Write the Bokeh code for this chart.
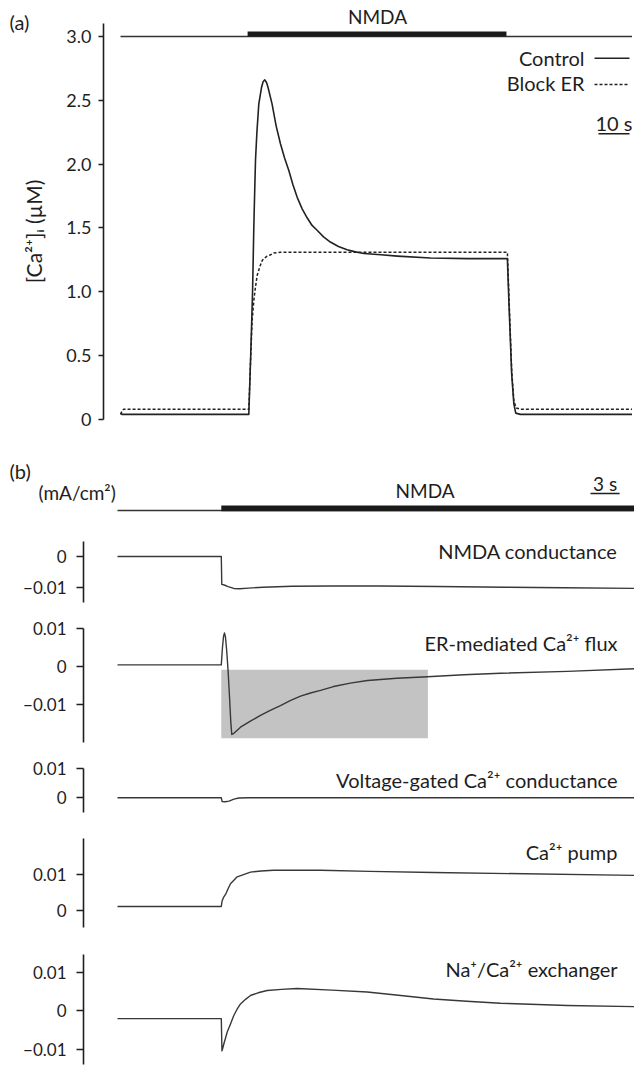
import math
from bokeh.plotting import figure
from bokeh.layouts import row
from bokeh.models import Range1d, FixedTicker, Label, CustomJSTickFormatter
from bokeh.embed import file_html
from bokeh.resources import INLINE

# ---------------- data ----------------
# (a) intracellular Ca2+ (uM) against time (s)
ctrl_t = [0, 0.5, 41.39, 42.0, 42.6, 43.0, 43.3, 43.55, 44.0, 44.61, 45.48, 46.0, 46.55, 47.1,
          47.6, 48.9, 50.2, 51.6, 52.9, 54.3, 55.6, 57.0, 58.6, 60.2, 61.8, 63.5, 65.5, 67.7,
          70.3, 73.1, 75.8, 78.5, 84.0, 89.3, 100.0, 112.0, 124.8, 125.4, 126.2, 126.9,
          127.5, 129.0, 165.0]
ctrl_v = [0.05, 0.04, 0.04, 0.50, 1.00, 1.50, 1.80, 2.03, 2.25, 2.47, 2.60, 2.645, 2.66, 2.64,
          2.60, 2.47, 2.30, 2.16, 2.05, 1.95, 1.84, 1.74, 1.65, 1.58, 1.52, 1.48, 1.43, 1.39,
          1.355, 1.33, 1.313, 1.30, 1.29, 1.28, 1.265, 1.26, 1.26, 0.85, 0.35, 0.12,
          0.05, 0.04, 0.04]
block_t = [0, 0.6, 1.0, 41.39, 41.94, 42.48, 43.0, 43.55, 44.1, 45.0, 45.7, 46.2, 47.3,
           48.4, 49.5, 51.6, 124.8, 125.4, 126.2, 126.9, 127.7, 129.0, 165.0]
block_v = [0.04, 0.07, 0.08, 0.08, 0.45, 0.78, 0.93, 1.04, 1.13, 1.20, 1.245, 1.26, 1.28,
           1.29, 1.305, 1.31, 1.31, 0.90, 0.38, 0.14, 0.09, 0.08, 0.08]
a_nmda = [41.0, 124.5]          # NMDA application (s)
a_stim_level = 3.0
a_scale_s = 10
a_ticks = [0, 0.5, 1.0, 1.5, 2.0, 2.5, 3.0]
a_tick_labels = ["0", "0.5", "1.0", "1.5", "2.0", "2.5", "3.0"]
a_legend = ["Control", "Block ER"]

# (b) currents (mA/cm2) against time (s)
nmda_t = [0, 10.7, 10.75, 11.0, 11.4, 12.0, 12.6, 13.5, 15.0, 18.0, 22.0, 27.0, 33.0, 40.0,
          46.0, 53.5]
nmda_v = [0, 0, -0.0090, -0.0092, -0.0097, -0.0103, -0.0104, -0.0102, -0.0099, -0.0096,
          -0.0095, -0.0095, -0.0097, -0.0099, -0.0101, -0.0103]
er_t = [0, 10.7, 10.82, 10.93, 11.03, 11.13, 11.25, 11.4, 11.55, 11.68, 11.78, 12.0, 12.68,
        13.7, 14.74, 15.8, 16.8, 17.8, 18.87, 19.9, 20.93, 22.27, 24.0, 25.77, 28.8, 31.96,
        35.7, 39.48, 46.39, 53.5]
er_v = [0.0005, 0.0005, 0.005, 0.008, 0.0089, 0.0078, 0.0045, -0.001, -0.008, -0.0145,
        -0.0178, -0.0175, -0.0159, -0.0143, -0.0128, -0.0114, -0.0102, -0.0089, -0.0077,
        -0.0069, -0.0062, -0.0052, -0.0043, -0.0036, -0.0030, -0.0026, -0.0021, -0.0017,
        -0.0012, -0.0005]
er_box_t = [10.7, 32.0]
er_box_v = [-0.0188, -0.0008]
vg_t = [0, 10.7, 10.78, 11.1, 11.5, 12.0, 12.5, 13.5, 53.5]
vg_v = [0, 0, -0.0013, -0.0014, -0.0012, -0.0005, -0.0001, 0, 0]
pump_t = [0, 10.7, 10.78, 10.95, 11.15, 11.4, 11.65, 12.34, 13.71, 14.8, 16.08, 20.93, 26.0,
          32.58, 53.5]
pump_v = [0.0011, 0.0011, 0.0026, 0.0037, 0.0045, 0.0060, 0.0074, 0.0093, 0.0106, 0.0109,
          0.0111, 0.0111, 0.0108, 0.0105, 0.0097]
ncx_t = [0, 10.7, 10.77, 10.85, 10.96, 11.13, 11.31, 11.65, 11.99, 12.3, 12.68, 13.2, 13.71,
         14.5, 15.43, 16.9, 18.53, 22.1, 25.74, 29.2, 32.58, 36.0, 39.48, 46.36, 53.5]
ncx_v = [-0.0021, -0.0021, -0.0105, -0.0098, -0.0087, -0.0072, -0.0056, -0.0035, -0.0013,
         0.0002, 0.0017, 0.0029, 0.0039, 0.0046, 0.0052, 0.0055, 0.0057, 0.0053, 0.0048,
         0.0039, 0.0030, 0.0024, 0.0019, 0.0013, 0.0010]
b_nmda = [10.7, 53.5]
b_scale_s = 3
b_labels = ["NMDA conductance", "ER-mediated Ca²⁺ flux", "Voltage-gated Ca²⁺ conductance",
            "Ca²⁺ pump", "Na⁺/Ca²⁺ exchanger"]
b_ticks = [[0, -0.01], [0.01, 0, -0.01], [0.01, 0], [0.01, 0], [0.01, 0, -0.01]]
b_tick_labels = [["0", "−0.01"], ["0.01", "0", "−0.01"], ["0.01", "0"], ["0.01", "0"],
                 ["0.01", "0", "−0.01"]]

# ---------------- layout / style ----------------
W = 634
FONT = "Lato"
INK = "#1e1e1e"
TRACE = "#222222"
TRACE_B = "#383838"

FMT_CODE = """
let best = 0, d = Infinity;
for (let i = 0; i < tv.length; i++) {
  const e = Math.abs(tv[i] - tick);
  if (e < d) { d = e; best = i; }
}
return tl[best];
"""


def base_fig(width, height, left_px, x_rng, y_rng, with_axis=True):
    p = figure(width=width, height=height, x_range=Range1d(*x_rng), y_range=Range1d(*y_rng),
               output_backend="svg", toolbar_location=None, x_axis_location=None,
               y_axis_location="left" if with_axis else None,
               min_border=0, min_border_left=left_px, min_border_right=0,
               min_border_top=0, min_border_bottom=0)
    p.grid.visible = False
    p.outline_line_color = None
    p.background_fill_color = "white"
    p.border_fill_color = "white"
    return p


def style_axis(p, ticks, labels, bounds, tick_len, size, standoff):
    ax = p.yaxis[0]
    ax.ticker = FixedTicker(ticks=ticks, minor_ticks=[])
    ax.formatter = CustomJSTickFormatter(args=dict(tv=ticks, tl=labels), code=FMT_CODE)
    ax.bounds = bounds
    ax.axis_line_color = INK
    ax.axis_line_width = 1.6
    ax.major_tick_line_color = INK
    ax.major_tick_line_width = 1.6
    ax.major_tick_in = 0
    ax.major_tick_out = tick_len
    ax.minor_tick_line_color = None
    ax.major_label_text_font = FONT
    ax.major_label_text_font_size = size
    ax.major_label_text_color = INK
    ax.major_label_standoff = standoff
    return ax


def add_label(p, x, y, text, size="20px", align="left", angle=0.0):
    p.add_layout(Label(x=x, y=y, text=text, text_font=FONT, text_font_size=size,
                       text_align=align, text_baseline="middle", text_color=INK,
                       angle=angle))


roots = []

# ================= panel (a) =================
A_H = 445
A_LEFT = 103
STRIP_W = 50
A_T0, A_PXS = 120.0, 3.1            # page x of t=0, px per s
A_Y0, A_PXU = 419.0, 127.67         # page y of 0 uM, px per uM


def ta(x):
    return (x - A_T0) / A_PXS


def va(y):
    return (A_Y0 - y) / A_PXU


# left strip: panel letter and rotated y title (page x 0..50)
sa = base_fig(STRIP_W, A_H, 0, (0, STRIP_W), (-A_H, 0), with_axis=False)
add_label(sa, 9, -21, "(a)", "20px", "left")
add_label(sa, 33, -231, "[Ca²⁺]ᵢ (µM)", "21px", "center", math.pi / 2)

# main plot (page x 50..634)
pa = base_fig(W - STRIP_W, A_H, A_LEFT - STRIP_W, (ta(A_LEFT), ta(W)), (va(A_H), va(0)))
style_axis(pa, a_ticks, a_tick_labels, (0, va(23.3)), 5, "18px", 7)

pa.line(x=[ctrl_t[0], ctrl_t[-1]], y=[a_stim_level, a_stim_level], line_color="#333333",
        line_width=1.5)
pa.quad(left=a_nmda[0], right=a_nmda[1], bottom=a_stim_level,
        top=a_stim_level + 5.0 / A_PXU, fill_color="#1a1a1a", line_color=None)
add_label(pa, ta(377), va(16), "NMDA", "19px", "center")

pa.line(x=block_t, y=block_v, line_color=TRACE, line_width=1.5, line_dash="3 2")
pa.line(x=ctrl_t, y=ctrl_v, line_color=TRACE, line_width=1.6, line_join="round")

leg_x0, leg_x1 = ta(594), ta(629)
pa.line(x=[leg_x0, leg_x1], y=[va(57.7)] * 2, line_color=TRACE, line_width=1.5)
pa.line(x=[leg_x0, leg_x1], y=[va(84)] * 2, line_color=TRACE, line_width=1.5, line_dash="3 2")
add_label(pa, ta(584), va(57.5), a_legend[0], "20px", "right")
add_label(pa, ta(584), va(82.5), a_legend[1], "20px", "right")

sb_r = ta(629)
pa.line(x=[sb_r - a_scale_s, sb_r], y=[va(133.3)] * 2, line_color=INK, line_width=1.6)
add_label(pa, sb_r - a_scale_s / 2, va(122.5), f"{a_scale_s} s", "20px", "center")
roots.append(row(sa, pa, spacing=0))

# ================= panel (b) =================
B_LEFT = 83
B_T0, B_PXS = 117.0, 9.7


def tb(x):
    return (x - B_T0) / B_PXS


# header strip (page y 445..528), full-width frame
HB_TOP, HB_H = 445, 83
hb = base_fig(W, HB_H, 0, (tb(0), tb(W)), (-(HB_TOP + HB_H), -HB_TOP), with_axis=False)
hb.line(x=[nmda_t[0], nmda_t[-1]], y=[-510, -510], line_color="#333333", line_width=1.5)
hb.quad(left=b_nmda[0], right=b_nmda[1], bottom=-510.7, top=-505,
        fill_color="#1a1a1a", line_color=None)
add_label(hb, tb(424.6), -490, "NMDA", "19px", "center")
add_label(hb, tb(9), -470, "(b)", "20px", "left")
add_label(hb, tb(38), -492, "(mA/cm²)", "19px", "left")
sb_l = tb(590)
hb.line(x=[sb_l, sb_l + b_scale_s], y=[-493, -493], line_color=INK, line_width=1.6)
add_label(hb, sb_l + b_scale_s / 2, -483.3, f"{b_scale_s} s", "19px", "center")
roots.append(hb)

# top, height, zero px, px per 0.01, axis top px, axis bottom px, label middle px
b_geom = [
    (528, 82, 556.0, 31.0, 541.0, 602.0, 550.5),
    (610, 142, 666.3, 38.0, 628.3, 742.0, 642.0),
    (752, 70, 797.2, 29.0, 768.3, 811.7, 779.0),
    (822, 110, 910.0, 36.2, 838.3, 926.7, 851.0),
    (932, 133, 1010.0, 38.5, 954.0, 1064.0, 968.0),
]
b_series = [(nmda_t, nmda_v), (er_t, er_v), (vg_t, vg_v), (pump_t, pump_v), (ncx_t, ncx_v)]

for i, (top, h, zero, per, ax_top, ax_bot, lab_y) in enumerate(b_geom):
    def vb(y, zero=zero, per=per):
        return (zero - y) / per * 0.01

    p = base_fig(W, h, B_LEFT, (tb(B_LEFT), tb(W)), (vb(top + h), vb(top)))
    style_axis(p, b_ticks[i], b_tick_labels[i], (vb(ax_bot), vb(ax_top) + 1e-9), 7, "17px", 10)
    if i == 1:
        p.quad(left=er_box_t[0], right=er_box_t[1], bottom=er_box_v[0], top=er_box_v[1],
               fill_color="#c3c3c3", line_color=None)
    tt, vv = b_series[i]
    p.line(x=tt, y=vv, line_color=TRACE_B, line_width=1.4, line_join="round")
    add_label(p, tb(617), vb(lab_y), b_labels[i], "20px", "right")
    roots.append(p)

open("out.html", "w").write(file_html(roots, INLINE))
